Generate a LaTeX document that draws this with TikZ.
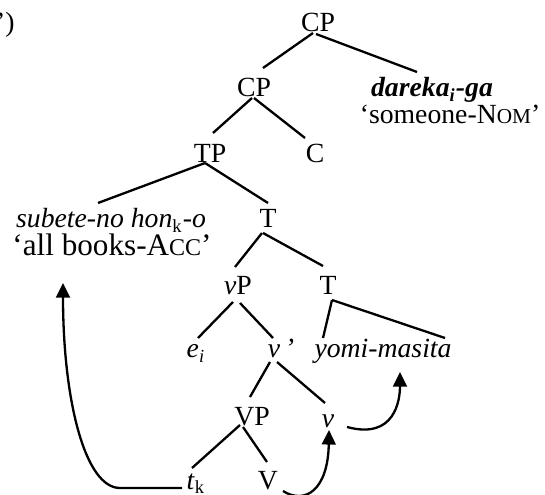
\documentclass[tikz,border=0pt]{standalone}
\usepackage{fontspec}
\setmainfont{Liberation Serif}
\usetikzlibrary{arrows.meta,calc}
\newcommand{\mysc}[1]{{\fontsize{9.2}{10}\selectfont #1}}
\newcommand{\mybigsc}[1]{{\fontsize{10.4}{11}\selectfont #1}}
\begin{document}
\begin{tikzpicture}[x=0.433pt,y=-0.433pt,
  lbl/.style={anchor=base,inner sep=0pt,font=\fontsize{12}{14}\selectfont},
  biglbl/.style={anchor=base,inner sep=0pt,font=\fontsize{13.5}{15}\selectfont},
  br/.style={line width=1pt},
  mv/.style={line width=1pt,-{Triangle[length=6.3pt,width=6pt]}}]
\useasboundingbox (0,0) rectangle (545,495);
\clip (0,0) rectangle (545,495);
% labels
\node[lbl,anchor=base east] (lab) at (15,32) {’)};
\node[lbl] (cp1) at (318,32) {CP};
\node[lbl] (cp2) at (254,97) {CP};
\node[lbl] (dar) at (432,97) {\textbf{\textit{dareka\textsubscript{i}-ga}}};
\node[lbl] (dargl) at (450,124) {‘someone-N\mysc{OM}’};
\node[lbl] (tp) at (210,163) {TP};
\node[lbl] (c) at (315,163) {C};
\node[lbl] (sub) at (111,228) {\textit{subete-no hon}\textsubscript{k}\textit{-o}};
\node[biglbl] (subgl) at (112,256) {‘all books-A\mybigsc{CC}’};
\node[lbl] (t1) at (268,228) {T};
\node[lbl] (vp) at (238,295) {\textit{v}P};
\node[lbl] (t2) at (328,295) {T};
\node[lbl] (e) at (196,358) {\textit{e\textsubscript{i}}};
\node[lbl] (vbar) at (281,358) {\textit{v\,’}};
\node[lbl] (yomi) at (383,358) {\textit{yomi-masita}};
\node[lbl] (VP) at (252,425) {VP};
\node[lbl] (v) at (328,427) {\textit{v}};
\node[lbl] (tk) at (196,489) {\textit{t}\textsubscript{k}};
\node[lbl] (V) at (268,489) {V};
% branches
\draw[br] ($(cp1.base)+(-5,1)$) -- ($(cp2.base)+(9,-29)$);
\draw[br] ($(cp1.base)+(-2,2)$) -- ($(dar.base)+(-15,-25)$);
\draw[br] ($(cp2.base)+(-2,1)$) -- ($(tp.base)+(3,-30)$);
\draw[br] ($(cp2.base)+(0,1)$) -- ($(c.base)+(-10,-25)$);
\draw[br] ($(tp.base)+(-5,0)$) -- ($(sub.base)+(-13,-25)$);
\draw[br] ($(tp.base)+(-5,0)$) -- ($(t1.base)+(0,-25)$);
\draw[br] ($(t1.base)+(-6,5)$) -- ($(vp.base)+(-3,-28)$);
\draw[br] ($(t1.base)+(-5,5)$) -- ($(t2.base)+(-5,-29)$);
\draw[br] ($(vp.base)+(-5,7)$) -- ($(e.base)+(2,-20)$);
\draw[br] ($(vp.base)+(2,8)$) -- ($(vbar.base)+(-8,-20)$);
\draw[br] ($(t2.base)+(4,5)$) -- ($(yomi.base)+(-60,-20)$);
\draw[br] ($(t2.base)+(4,5)$) -- ($(yomi.base)+(62,-20)$);
\draw[br] ($(vbar.base)+(-11,4)$) -- ($(VP.base)+(-2,-28)$);
\draw[br] ($(vbar.base)+(-4,4)$) -- ($(v.base)+(-3,-24)$);
\draw[br] ($(VP.base)+(-12,0)$) -- ($(tk.base)+(-4,-21)$);
\draw[br] ($(VP.base)+(-9,2)$) -- ($(V.base)+(-1,-27)$);
% movement arrows
\coordinate (bend) at (120,488);
\draw[mv] ($(tk.base)+(-14,-1)$) -- (bend) .. controls (85,488) and (63,400) .. ($(subgl.base)+(-49,27)$);
\draw[mv] ($(V.base)+(15,2)$) .. controls (305,505) and (328,490) .. ($(v.base)+(1,3)$);
\draw[mv] ($(v.base)+(19,0)$) .. controls (395,440) and (400,400) .. ($(yomi.base)+(17,14)$);
\end{tikzpicture}
\end{document}
